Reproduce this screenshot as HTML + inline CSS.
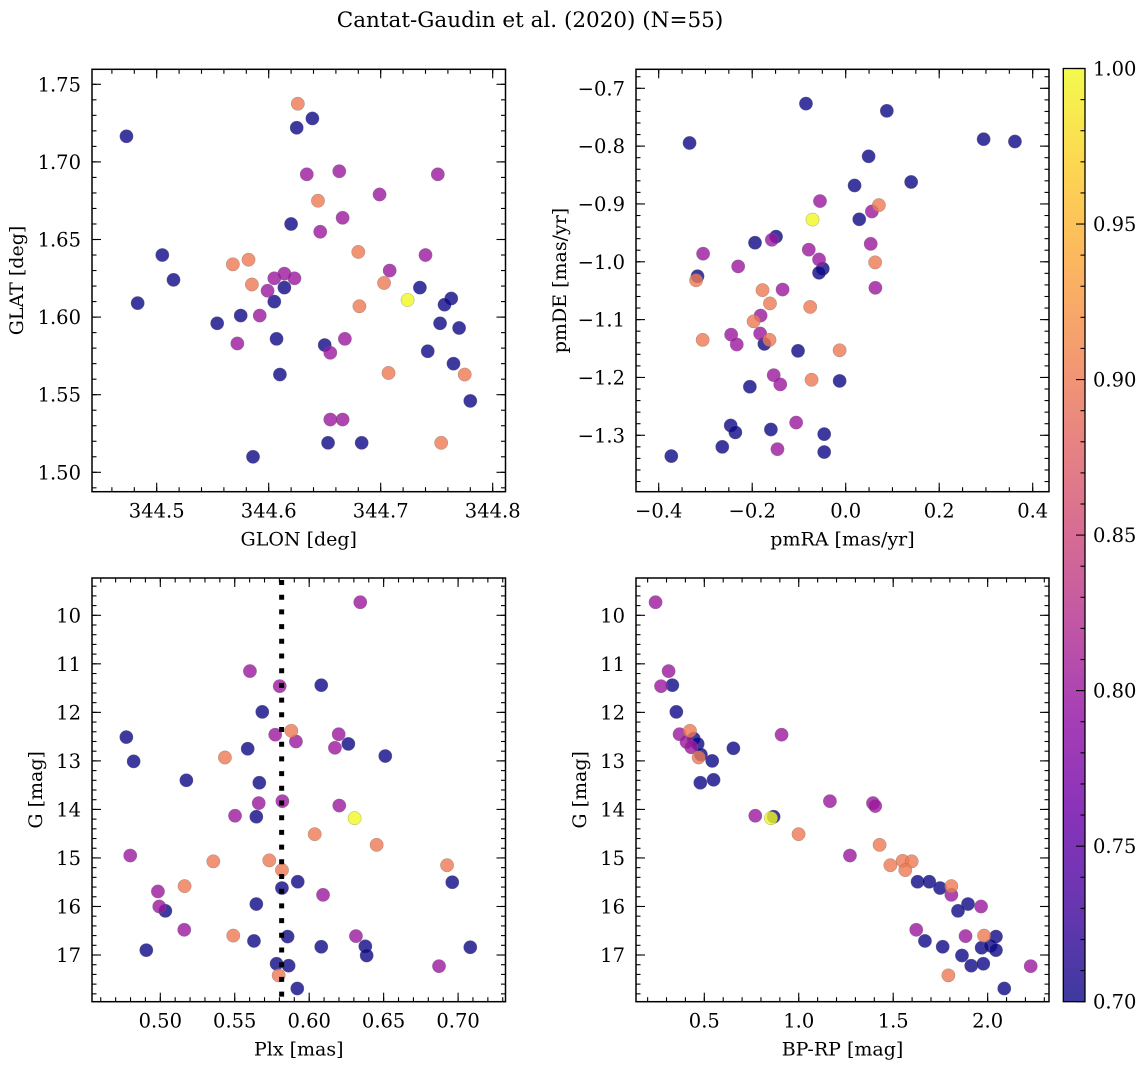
<!DOCTYPE html>
<html><head><meta charset="utf-8"><style>
html,body{margin:0;padding:0;background:#fff}
svg{display:block;font-family:"DejaVu Serif","Liberation Serif",serif}
</style></head><body>
<svg id="fig" width="1148" height="1068" viewBox="0 0 1148 1068" xmlns="http://www.w3.org/2000/svg">
<defs><linearGradient id="cbgrad" x1="0" y1="1" x2="0" y2="0"></linearGradient></defs>
<text x="530" y="27" font-size="21.5" text-anchor="middle">Cantat-Gaudin et al. (2020) (N=55)</text>
</svg>
<script>
// ---- Panel 1: GLON vs GLAT ----
const glonP1 = [344.473,344.626,344.639,344.625,344.634,344.663,344.751,344.699,344.644,344.666,344.620,344.646,344.505,344.680,344.740,344.568,344.582,344.515,344.605,344.614,344.623,344.585,344.614,344.708,344.703,344.599,344.735,344.724,344.763,344.757,344.483,344.605,344.681,344.575,344.592,344.554,344.753,344.770,344.607,344.572,344.650,344.668,344.655,344.742,344.765,344.610,344.707,344.775,344.780,344.655,344.666,344.653,344.683,344.754,344.586];
const glatP1 = [1.7165,1.7375,1.728,1.722,1.692,1.694,1.692,1.679,1.675,1.664,1.660,1.655,1.640,1.642,1.640,1.634,1.637,1.624,1.625,1.628,1.625,1.621,1.619,1.630,1.622,1.617,1.619,1.611,1.612,1.608,1.609,1.610,1.607,1.601,1.601,1.596,1.596,1.593,1.586,1.583,1.582,1.586,1.577,1.578,1.570,1.563,1.564,1.563,1.546,1.534,1.534,1.519,1.519,1.519,1.510];
const probP1 = [0.70,0.90,0.70,0.70,0.80,0.80,0.80,0.80,0.90,0.80,0.70,0.80,0.70,0.90,0.80,0.90,0.90,0.70,0.80,0.80,0.80,0.90,0.70,0.80,0.90,0.80,0.70,1.00,0.70,0.70,0.70,0.70,0.90,0.70,0.80,0.70,0.70,0.70,0.70,0.80,0.70,0.80,0.80,0.70,0.70,0.70,0.90,0.90,0.70,0.80,0.80,0.70,0.70,0.90,0.70];
// ---- Panel 2: pmRA vs pmDE ----
const pmraP2 = [-0.085,0.088,-0.334,0.295,0.362,0.049,0.019,0.140,-0.055,0.071,0.056,-0.071,0.029,-0.149,-0.158,-0.194,-0.305,-0.079,0.0535,-0.057,-0.049,-0.057,-0.230,-0.317,-0.320,0.063,0.0635,-0.178,-0.135,-0.162,-0.076,-0.182,-0.197,-0.306,-0.245,-0.233,-0.183,-0.174,-0.163,-0.102,-0.013,-0.154,-0.140,-0.073,-0.013,-0.205,-0.106,-0.246,-0.236,-0.160,-0.046,-0.264,-0.146,-0.046,-0.373];
const pmdeP2 = [-0.7265,-0.739,-0.7945,-0.788,-0.792,-0.8176,-0.868,-0.862,-0.895,-0.902,-0.913,-0.927,-0.9265,-0.9565,-0.962,-0.967,-0.986,-0.979,-0.969,-0.996,-1.012,-1.019,-1.008,-1.025,-1.032,-1.001,-1.045,-1.049,-1.048,-1.072,-1.078,-1.093,-1.103,-1.135,-1.126,-1.143,-1.124,-1.142,-1.135,-1.154,-1.153,-1.196,-1.212,-1.204,-1.206,-1.216,-1.278,-1.283,-1.295,-1.290,-1.298,-1.320,-1.324,-1.329,-1.336];
const probP2 = [0.70,0.70,0.70,0.70,0.70,0.70,0.70,0.70,0.80,0.90,0.80,1.00,0.70,0.70,0.80,0.70,0.80,0.80,0.80,0.80,0.70,0.70,0.80,0.70,0.90,0.90,0.80,0.90,0.80,0.90,0.90,0.80,0.90,0.90,0.80,0.80,0.80,0.70,0.90,0.70,0.90,0.80,0.80,0.90,0.70,0.70,0.80,0.70,0.70,0.70,0.70,0.70,0.80,0.70,0.70];
// ---- Panel 3: Plx vs G ----
const plxP3 = [0.6343,0.5602,0.5802,0.6081,0.5685,0.4772,0.5772,0.5880,0.5911,0.6198,0.6173,0.6263,0.5587,0.5434,0.6511,0.4821,0.5175,0.5665,0.5661,0.5820,0.6202,0.5502,0.5645,0.6305,0.6037,0.6453,0.4798,0.5356,0.5732,0.5817,0.6926,0.5923,0.6961,0.4984,0.5163,0.5817,0.6093,0.5645,0.4993,0.5034,0.5161,0.5490,0.5855,0.5629,0.6314,0.4906,0.6081,0.6377,0.6386,0.7082,0.5781,0.5862,0.6872,0.5795,0.5920];
const gmagP3 = [9.73,11.15,11.46,11.44,11.99,12.51,12.46,12.38,12.60,12.45,12.73,12.65,12.75,12.93,12.90,13.01,13.40,13.45,13.87,13.83,13.92,14.13,14.15,14.18,14.51,14.73,14.95,15.07,15.05,15.25,15.15,15.49,15.50,15.69,15.58,15.62,15.76,15.95,16.00,16.09,16.48,16.60,16.62,16.71,16.61,16.90,16.83,16.82,17.01,16.84,17.18,17.22,17.23,17.42,17.69];
const probP3 = [0.80,0.80,0.80,0.70,0.70,0.70,0.80,0.90,0.80,0.80,0.80,0.70,0.70,0.90,0.70,0.70,0.70,0.70,0.80,0.80,0.80,0.80,0.70,1.00,0.90,0.90,0.80,0.90,0.90,0.90,0.90,0.70,0.70,0.80,0.90,0.70,0.80,0.70,0.80,0.70,0.80,0.90,0.70,0.70,0.80,0.70,0.70,0.70,0.70,0.70,0.70,0.70,0.80,0.90,0.70];
const plxRef = 0.5815;
// ---- Panel 4: BP-RP vs G ----
const bprpP4 = [0.242,0.311,0.271,0.331,0.352,0.369,0.424,0.444,0.465,0.406,0.431,0.482,0.470,0.542,0.654,0.909,0.479,0.549,1.165,1.393,1.405,0.770,0.867,0.853,0.999,1.428,1.271,1.485,1.550,1.598,1.564,1.629,1.691,1.748,1.808,1.808,1.896,1.843,1.965,1.622,1.883,1.981,2.044,1.668,1.762,1.968,2.016,2.044,1.864,1.913,1.977,2.228,1.792,2.088];
const gmagP4 = [9.73,11.15,11.46,11.44,11.99,12.45,12.38,12.54,12.65,12.61,12.72,12.87,12.93,13.00,12.74,12.46,13.45,13.39,13.83,13.87,13.93,14.13,14.15,14.18,14.51,14.73,14.95,15.15,15.06,15.07,15.25,15.49,15.49,15.62,15.58,15.76,15.95,16.09,16.00,16.48,16.61,16.60,16.62,16.71,16.83,16.85,16.81,16.90,17.01,17.22,17.18,17.23,17.42,17.69];
const probP4 = [0.80,0.80,0.80,0.70,0.70,0.80,0.90,0.70,0.70,0.80,0.80,0.70,0.90,0.70,0.70,0.80,0.70,0.70,0.80,0.80,0.80,0.80,0.70,1.00,0.90,0.90,0.80,0.90,0.90,0.90,0.90,0.70,0.70,0.70,0.90,0.80,0.70,0.70,0.80,0.80,0.80,0.90,0.70,0.70,0.70,0.70,0.70,0.70,0.70,0.70,0.70,0.80,0.90,0.70];
// ---- tick labels ----
const ticksP1x = [344.5,344.6,344.7,344.8];
const labelsP1x = ["344.5","344.6","344.7","344.8"];
const ticksP1y = [1.50,1.55,1.60,1.65,1.70,1.75];
const labelsP1y = ["1.50","1.55","1.60","1.65","1.70","1.75"];
const ticksP2x = [-0.4,-0.2,0,0.2,0.4];
const labelsP2x = ["\u22120.4","\u22120.2","0.0","0.2","0.4"];
const ticksP2y = [-0.7,-0.8,-0.9,-1.0,-1.1,-1.2,-1.3];
const labelsP2y = ["\u22120.7","\u22120.8","\u22120.9","\u22121.0","\u22121.1","\u22121.2","\u22121.3"];
const ticksP3x = [0.50,0.55,0.60,0.65,0.70];
const labelsP3x = ["0.50","0.55","0.60","0.65","0.70"];
const ticksGy = [10,11,12,13,14,15,16,17];
const labelsGy = ["10","11","12","13","14","15","16","17"];
const ticksP4x = [0.5,1.0,1.5,2.0];
const labelsP4x = ["0.5","1.0","1.5","2.0"];
const cbTicks = [0.70,0.75,0.80,0.85,0.90,0.95,1.00];
const cbLabels = ["0.70","0.75","0.80","0.85","0.90","0.95","1.00"];
const vmin = 0.70, vmax = 1.00;
const TICKFS = 19.5, LABFS = 19;

const NS = "http://www.w3.org/2000/svg";
const svg = document.getElementById('fig');
function mk(tag, attrs, parent) {
  const e = document.createElementNS(NS, tag);
  for (const k in attrs) e.setAttribute(k, attrs[k]);
  (parent || svg).appendChild(e);
  return e;
}
const plasmaStops = ["#0d0887","#41049d","#6a00a8","#8f0da4","#b12a90","#cc4778","#e16462","#f2844b","#fca636","#fcce25","#f0f921"];
function hex(h){return [parseInt(h.substr(1,2),16),parseInt(h.substr(3,2),16),parseInt(h.substr(5,2),16)];}
function plasma(t){
  t = Math.max(0, Math.min(1, t));
  const f = t*10, i = Math.min(9, Math.floor(f)), u = f - i;
  const a = hex(plasmaStops[i]), b = hex(plasmaStops[i+1]);
  return "rgb(" + a.map((v,k)=>Math.round(v+(b[k]-v)*u)).join(",") + ")";
}
function colorOf(p){ return plasma((p - vmin)/(vmax - vmin)); }

function panel(cfg) {
  const g = mk('g', {});
  
  
  const L = cfg.L, R = cfg.R, T = cfg.T, B = cfg.B;
  const xs = v => cfg.x0 + (v - cfg.xv0) * cfg.xs;
  const ys = v => cfg.y0 + (v - cfg.yv0) * cfg.ys;
  const xinv = p => cfg.xv0 + (p - cfg.x0) / cfg.xs;
  const yinv = p => cfg.yv0 + (p - cfg.y0) / cfg.ys;
  const idx = cfg.px.map((_, i) => i).sort((a, b) => cfg.pp[a] - cfg.pp[b]);
  const pts = mk('g', {}, g);
  
  
  for (const i of idx) {
    const c = mk('circle', {cx: xs(cfg.px[i]).toFixed(2), cy: ys(cfg.py[i]).toFixed(2), r: 6.7, fill: colorOf(cfg.pp[i]), 'fill-opacity': 0.8, stroke: '#777', 'stroke-width': 0.5, 'stroke-opacity': 0.6}, pts);
    
    
  }
  if (cfg.vline !== undefined) {
    const vx = xs(cfg.vline);
    const ln = mk('line', {x1: vx, x2: vx, y1: T + 2, y2: B, stroke: '#000', 'stroke-width': 5, 'stroke-dasharray': '5 9.7'}, g);
    
    
  }
  const tk = mk('g', {stroke: '#000', 'stroke-width': 1.1}, g);
  let lo = Math.ceil(Math.min(xinv(L), xinv(R)) / cfg.xminor - 1e-6), hi = Math.floor(Math.max(xinv(L), xinv(R)) / cfg.xminor + 1e-6);
  for (let k = lo; k <= hi; k++) {
    const p = xs(k * cfg.xminor); if (p < L + 0.5 || p > R - 0.5) continue;
    mk('line', {x1: p, x2: p, y1: B, y2: B - 4.5}, tk); mk('line', {x1: p, x2: p, y1: T, y2: T + 4.5}, tk);
  }
  lo = Math.ceil(Math.min(yinv(T), yinv(B)) / cfg.yminor - 1e-6); hi = Math.floor(Math.max(yinv(T), yinv(B)) / cfg.yminor + 1e-6);
  for (let k = lo; k <= hi; k++) {
    const p = ys(k * cfg.yminor); if (p < T + 0.5 || p > B - 0.5) continue;
    mk('line', {x1: L, x2: L + 4.5, y1: p, y2: p}, tk); mk('line', {x1: R, x2: R - 4.5, y1: p, y2: p}, tk);
  }
  cfg.xt.forEach((v, i) => {
    const p = xs(v);
    mk('line', {x1: p, x2: p, y1: B, y2: B - 9}, tk); mk('line', {x1: p, x2: p, y1: T, y2: T + 9}, tk);
    const t = mk('text', {x: p, y: B + 26, 'font-size': TICKFS, 'text-anchor': 'middle'}, g);
    t.textContent = cfg.xl[i];
    
    
  });
  cfg.yt.forEach((v, i) => {
    const p = ys(v);
    mk('line', {x1: L, x2: L + 9, y1: p, y2: p}, tk); mk('line', {x1: R, x2: R - 9, y1: p, y2: p}, tk);
    const t = mk('text', {x: L - 11, y: p + 7, 'font-size': TICKFS, 'text-anchor': 'end'}, g);
    t.textContent = cfg.yl[i];
    
    
  });
  const fr = mk('rect', {x: L, y: T, width: R - L, height: B - T, fill: 'none', stroke: '#000', 'stroke-width': 1.5}, g);
  
  
  const xt = mk('text', {x: (L + R) / 2, y: B + 54, 'font-size': LABFS, 'text-anchor': 'middle'}, g);
  xt.textContent = cfg.xlabel;
  
  
  const yx = cfg.ylx, yy = (T + B) / 2;
  const yt = mk('text', {x: yx, y: yy, 'font-size': LABFS, 'text-anchor': 'middle', transform: 'rotate(-90 ' + yx + ' ' + yy + ')', 'dominant-baseline': 'central'}, g);
  yt.textContent = cfg.ylabel;
  
  
}

panel({name: 'glon-glat-panel', L: 92, R: 505.5, T: 69.3, B: 491.7, x0: 156.7, xv0: 344.5, xs: 1120, y0: 84.3, yv0: 1.75, ys: -1552,
  xminor: 0.02, yminor: 0.01, xt: ticksP1x, xl: labelsP1x, yt: ticksP1y, yl: labelsP1y, px: glonP1, py: glatP1, pp: probP1,
  xlabel: 'GLON [deg]', ylabel: 'GLAT [deg]', ylx: 17});
panel({name: 'proper-motion-panel', L: 636, R: 1049, T: 69.3, B: 491.7, x0: 658.7, xv0: -0.4, xs: 467.5, y0: 88.3, yv0: -0.7, ys: -578.3,
  xminor: 0.05, yminor: 0.02, xt: ticksP2x, xl: labelsP2x, yt: ticksP2y, yl: labelsP2y, px: pmraP2, py: pmdeP2, pp: probP2,
  xlabel: 'pmRA [mas/yr]', ylabel: 'pmDE [mas/yr]', ylx: 560});
panel({name: 'parallax-mag-panel', L: 92, R: 505.5, T: 578, B: 1001.7, x0: 160.3, xv0: 0.5, xs: 1488.9, y0: 615.3, yv0: 10, ys: 48.53,
  xminor: 0.01, yminor: 0.2, xt: ticksP3x, xl: labelsP3x, yt: ticksGy, yl: labelsGy, px: plxP3, py: gmagP3, pp: probP3, vline: plxRef,
  xlabel: 'Plx [mas]', ylabel: 'G [mag]', ylx: 36});
panel({name: 'cmd-panel', L: 636, R: 1049, T: 578, B: 1001.7, x0: 704.3, xv0: 0.5, xs: 188.9, y0: 615.3, yv0: 10, ys: 48.53,
  xminor: 0.1, yminor: 0.2, xt: ticksP4x, xl: labelsP4x, yt: ticksGy, yl: labelsGy, px: bprpP4, py: gmagP4, pp: probP4,
  xlabel: 'BP-RP [mag]', ylabel: 'G [mag]', ylx: 580});

const grad = document.getElementById('cbgrad');
for (let k = 0; k <= 20; k++) {
  mk('stop', {offset: (k / 20), 'stop-color': plasma(k / 20)}, grad);
}
const cbL = 1063.3, cbR = 1085, cbT = 68.5, cbB = 1001.7;
const cbg = mk('g', {});


mk('rect', {x: cbL, y: cbT, width: cbR - cbL, height: cbB - cbT, fill: 'url(#cbgrad)', 'fill-opacity': 0.8}, cbg);
const cby = v => cbB - (v - vmin) / (vmax - vmin) * (cbB - cbT);
for (let k = 70; k <= 100; k++) {
  const p = cby(k / 100);
  const major = k % 5 === 0;
  mk('line', {x1: cbR, x2: cbR - (major ? 9 : 4.5), y1: p, y2: p, stroke: '#000', 'stroke-width': 1.1}, cbg);
}
cbTicks.forEach((v, i) => {
  const t = mk('text', {x: 1093, y: cby(v) + 7, 'font-size': TICKFS}, cbg);
  t.textContent = cbLabels[i];
  
  
});
mk('rect', {x: cbL, y: cbT, width: cbR - cbL, height: cbB - cbT, fill: 'none', stroke: '#000', 'stroke-width': 1.3}, cbg);
</script>
</body></html>
